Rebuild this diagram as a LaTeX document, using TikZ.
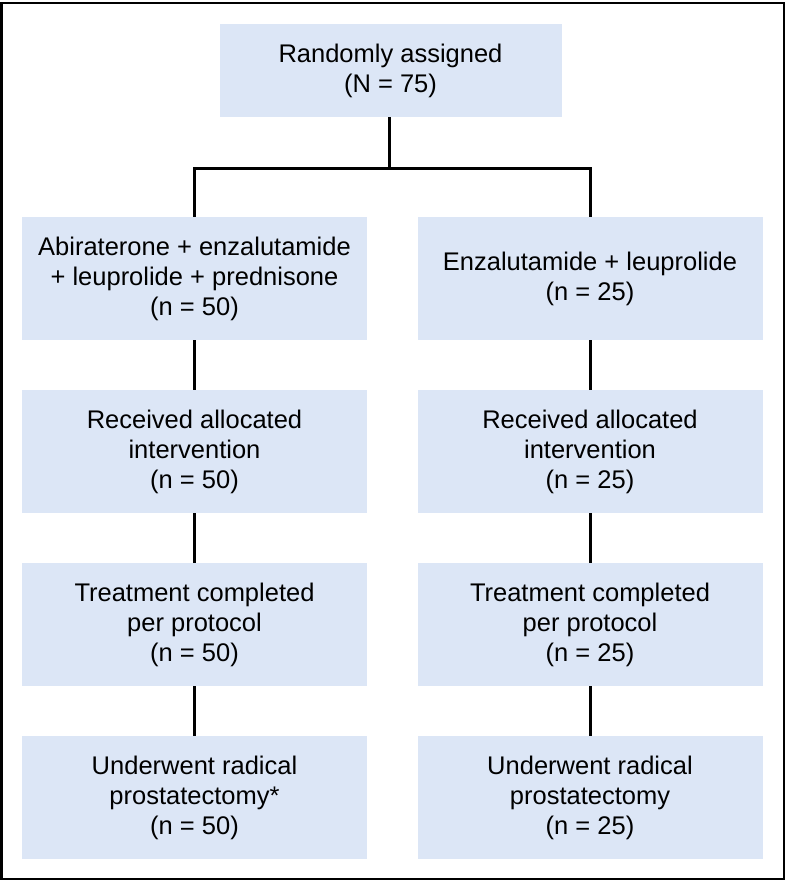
\documentclass[tikz,border=0pt]{standalone}
\usepackage{fontspec}
\setmainfont{Liberation Sans}
\definecolor{boxblue}{RGB}{220,230,246}
\begin{document}
\begin{tikzpicture}[x=1pt,y=-1pt,
        stage/.style={fill=boxblue,minimum width=345pt,minimum height=123pt,
            inner sep=0pt,align=center,font=\fontsize{25.5}{30}\selectfont},
        link/.style={line width=3pt}]
\useasboundingbox (0,0) rectangle (787,881);
\draw[line width=2.5pt] (1.5,3) rectangle (784,879);

\node[stage,minimum width=342pt,minimum height=93pt] (rand) at (390.5,70.5) {Randomly assigned\\(N = 75)};

\node[stage] (armA) at (194.5,278.5) {Abiraterone + enzalutamide\\+ leuprolide + prednisone\\(n = 50)};
\node[stage] (armB) at (590,278.5) {Enzalutamide + leuprolide\\(n = 25)};

\node[stage] (recA) at (194.5,451.5) {Received allocated\\intervention\\(n = 50)};
\node[stage] (recB) at (590,451.5) {Received allocated\\intervention\\(n = 25)};

\node[stage] (compA) at (194.5,624.5) {Treatment completed\\per protocol\\(n = 50)};
\node[stage] (compB) at (590,624.5) {Treatment completed\\per protocol\\(n = 25)};

\node[stage] (surgA) at (194.5,797.5) {Underwent radical\\prostatectomy*\\(n = 50)};
\node[stage] (surgB) at (590,797.5) {Underwent radical\\prostatectomy\\(n = 25)};

% split
\coordinate (split) at (389,168);
\draw[link] (rand.south -| split) -- (split);
\draw[link] (armA.north) |- (split) -| (armB.north);

\draw[link] (armA) -- (recA);
\draw[link] (recA) -- (compA);
\draw[link] (compA) -- (surgA);

\draw[link] (armB) -- (recB);
\draw[link] (recB) -- (compB);
\draw[link] (compB) -- (surgB);
\end{tikzpicture}
\end{document}
